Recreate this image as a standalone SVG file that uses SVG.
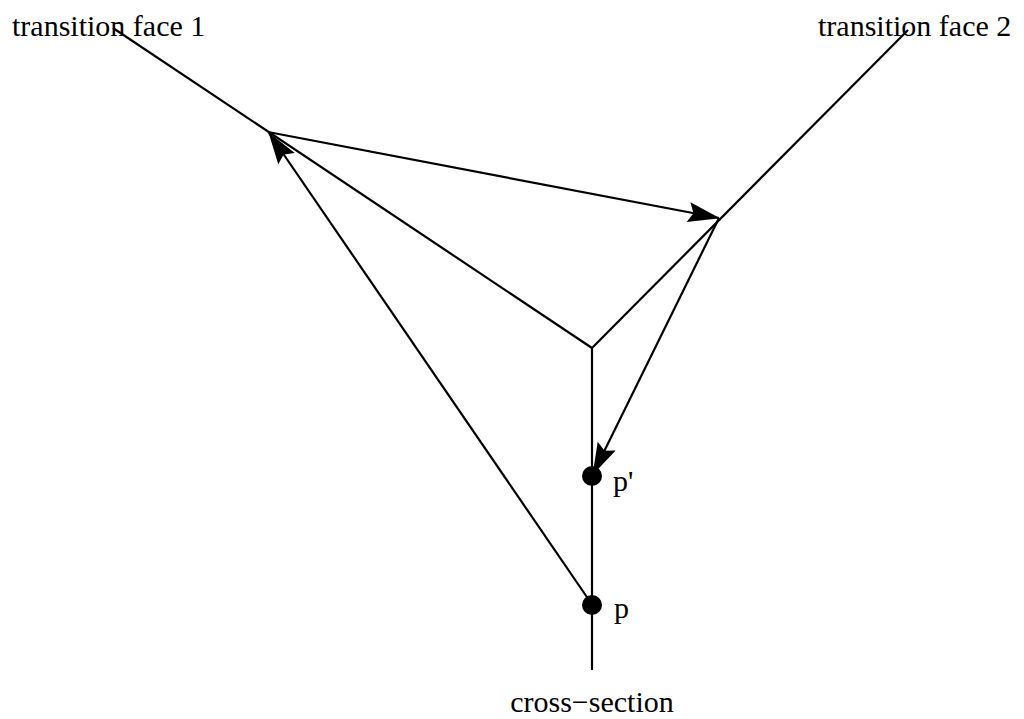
<svg xmlns="http://www.w3.org/2000/svg" width="1024" height="719" viewBox="0 0 1024 719">
<style>
.ln{stroke:#000;stroke-width:2.2;fill:none}
.lbl{font-family:"Liberation Serif","Times New Roman",serif;font-size:30px;fill:#000}
.dot{fill:#000}
</style>
<defs>
<marker id="ah" markerUnits="userSpaceOnUse" markerWidth="34" markerHeight="22" refX="31" refY="10" orient="auto" overflow="visible">
<path d="M0,0 L32,10 L0,20 L5,10 Z" fill="#000"/>
</marker>
</defs>
<rect width="1024" height="719" fill="#fff"/>
<g id="connectors">
<line class="ln" x1="113" y1="28" x2="592" y2="348"/>
<line class="ln" x1="908" y1="30" x2="592" y2="348"/>
<line class="ln" x1="592" y1="348" x2="592" y2="670"/>
<line class="ln" x1="268" y1="132" x2="719" y2="218" marker-end="url(#ah)"/>
<line class="ln" x1="719" y1="218" x2="593" y2="474" marker-end="url(#ah)"/>
<line class="ln" x1="591" y1="603" x2="269" y2="133" marker-end="url(#ah)"/>
</g>
<g id="face1"><text class="lbl" x="12" y="36">transition face 1</text></g>
<g id="face2"><text class="lbl" x="818" y="36">transition face 2</text></g>
<g id="pprime"><circle class="dot" cx="592" cy="476" r="10"/><text class="lbl" x="613" y="491">p'</text></g>
<g id="p"><circle class="dot" cx="592" cy="605" r="10"/><text class="lbl" x="614" y="618">p</text></g>
<g id="cross"><text class="lbl" x="592" y="712" text-anchor="middle">cross−section</text></g>
</svg>
